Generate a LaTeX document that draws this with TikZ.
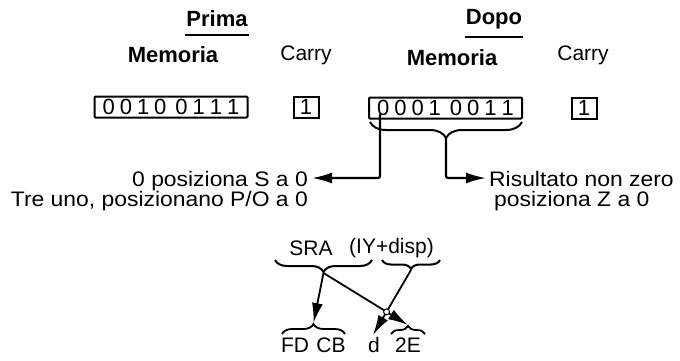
\documentclass[tikz,border=0pt]{standalone}
\usepackage{fontspec}
\setmainfont{Liberation Sans}
\newfontfamily\widefont[FakeStretch=1.09]{Liberation Sans}
\usetikzlibrary{arrows.meta, positioning, decorations.pathreplacing, calc}

\begin{document}
\begin{tikzpicture}[
  x=1pt, y=-1pt,
  >={Latex[length=20pt, width=11pt]},
  head/.style={font=\fontsize{22}{24}\selectfont\bfseries, inner sep=1pt},
  carry/.style={font=\fontsize{21}{22}\selectfont, inner sep=1pt},
  membox/.style={draw, line width=2pt, rounded corners=1pt, minimum width=153pt, minimum height=21pt, inner sep=0pt, font=\fontsize{22}{22}\selectfont},
  bitbox/.style={draw, line width=2pt, minimum width=25pt, minimum height=21pt, inner sep=0pt, font=\fontsize{22}{22}\selectfont},
  note/.style={font=\widefont\fontsize{21}{22}\selectfont, inner sep=0pt, text height=15pt, text depth=3pt},
  code/.style={font=\fontsize{21}{22}\selectfont, inner sep=0pt},
  lead/.style={->, line width=2.2pt, rounded corners=2pt},
  link/.style={->, line width=1.8pt},
  bracedown/.style={decorate, decoration={brace, mirror, amplitude=#1}, line width=2pt},
  braceup/.style={decorate, decoration={brace, amplitude=#1}, line width=1.8pt}
]
  \useasboundingbox (0,0) rectangle (680,361);

  % Before
  \node[head] (prima) at (217,19) {Prima};
  \draw[line width=2pt] ([yshift=-7pt]prima.south west) -- ([yshift=-7pt]prima.south east);
  \node[head] (memA) at (173,55) {Memoria};
  \node[carry] (carA) at (306,55) {Carry};
  \node[membox] (regA) at (171,107) {0\hspace{5pt}0\hspace{5pt}1\hspace{5pt}0\hspace{9pt}0\hspace{5pt}1\hspace{5pt}1\hspace{5pt}1};
  \node[bitbox] (cyA) at (306,107) {1};

  % After
  \node[head] (dopo) at (494,19) {Dopo};
  \draw[line width=2pt] ([yshift=-7pt]dopo.south west) -- ([yshift=-7pt]dopo.south east);
  \node[head] (memB) at (452,58) {Memoria};
  \node[carry] (carB) at (583,55) {Carry};
  \node[membox] (regB) at (445.5,108) {0\hspace{5pt}0\hspace{5pt}0\hspace{5pt}1\hspace{9pt}0\hspace{5pt}0\hspace{5pt}1\hspace{5pt}1};
  \node[bitbox] (cyB) at (584,108) {1};

  % Flags
  \draw[bracedown=16pt] (370,122) -- (522,122);
  \coordinate (ztip) at (446,138);
  \coordinate (sbit) at (380,114);
  \node[note, anchor=east] (sline) at (308,180) {0 posiziona S a 0};
  \node[note, anchor=east] (pline) at (308,200) {Tre uno, posizionano P/O a 0};
  \node[note, anchor=west] (rline) at (489,180) {Risultato non zero};
  \node[note, anchor=west] (zline) at (494,200) {posiziona Z a 0};
  \draw[lead] (sbit) |- ([xshift=4pt, yshift=2pt]sline.east);
  \draw[lead] (ztip) |- ([xshift=-3pt, yshift=2pt]rline.west);

  % Instruction code
  \node[code] (sra) at (311,248) {SRA};
  \node[code, anchor=west] (iy) at (349,248) {(IY+disp)};
  \draw[bracedown=12pt] (275,260) -- (372,260);
  \draw[bracedown=9pt] (382,260) -- (440,260);
  \coordinate (sratip) at (323.5,273);
  \coordinate (disptip) at (411,270);

  \node[code] (fd) at (295,345) {FD};
  \node[code] (cb) at (331,345) {CB};
  \node[code] (dd) at (374,345) {d};
  \node[code] (ee) at (408,345) {2E};
  \draw[braceup=10pt] (282,334) -- (345,334);
  \draw[braceup=8pt] (391,334) -- (425,334);
  \coordinate (fcbtip) at (313.5,323);
  \coordinate (etip) at (408,325);
  \coordinate (dtip) at (373,335);

  \draw[link] (sratip) -- (fcbtip);
  \draw[link] (sratip) -- (etip);
  \draw[link] (disptip) -- (dtip);
  \coordinate (hop) at (intersection of sratip--etip and disptip--dtip);
  \draw[line width=1pt, fill=white] (hop) circle (3pt);
\end{tikzpicture}
\end{document}
